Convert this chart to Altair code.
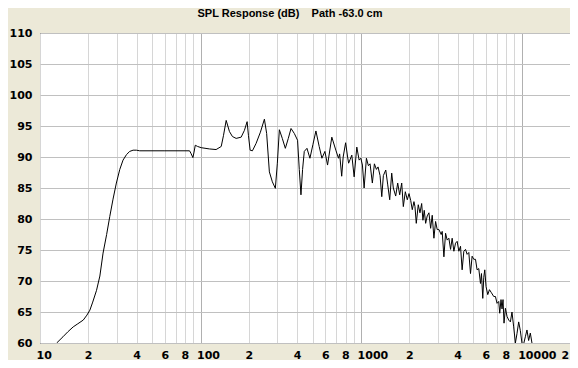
import json
import altair as alt
import pandas as pd

# ---- data ----
freq_hz = [
    12.7, 13.9, 14.9, 16.1, 17.2, 18.6, 19.6, 20.45, 21.3, 22.5, 23.6, 24.7, 26.0, 27.2,
    28.5, 29.9, 31.4, 32.9, 34.6, 36.2, 38.0, 39.8, 41.8, 60, 85.4, 87.1, 89.6, 91.1,
    92.7, 95.8, 101, 113.7, 125, 134.5, 139, 144.4, 151.4, 158, 166.6, 179, 187.6, 195,
    198.7, 203.6, 210.4, 221.8, 235.9, 249.8, 258, 268.3, 280, 292.3, 300.8, 309.6, 323,
    337.3, 352, 366, 383.6, 402, 412, 422, 432, 442.6, 460, 480, 501, 523, 548, 570, 595,
    618, 657, 696, 723, 735, 757, 773, 801, 824, 836, 854, 875, 905, 940, 972, 996,
    1019, 1044, 1079, 1110, 1137, 1175, 1210, 1245, 1275, 1312, 1345, 1376, 1424, 1465,
    1507, 1551, 1587, 1642, 1690, 1739, 1790, 1832, 1885, 1939, 1987, 2036, 2083, 2134,
    2165, 2206, 2270, 2326, 2383, 2427, 2473, 2523, 2581, 2645, 2710, 2773, 2841, 2910,
    2978, 3052, 3153, 3199, 3278, 3358, 3436, 3521, 3607, 3691, 3782, 3874, 3964, 4061,
    4161, 4258, 4363, 4470, 4574, 4686, 4801, 4913, 5034, 5157, 5277, 5406, 5539, 5619,
    5725, 5808, 5891, 6001, 6149, 6300, 6483, 6700, 6864, 7024, 7196, 7300, 7436, 7544,
    7653, 7764, 7920, 8103, 8302, 8507, 8703, 8918, 9137, 9349, 9580, 9810, 10040, 10210,
    10540, 10790, 11050, 11320, 11590, 11870,
]
spl_db = [
    60.0, 61.0, 61.8, 62.6, 63.1, 63.7, 64.5, 65.3, 66.6, 68.5, 70.8, 74.5, 77.5, 80.4,
    83.2, 85.8, 88.0, 89.5, 90.4, 90.9, 91.1, 91.1, 91.0, 91.0, 91.0, 90.6, 89.9, 90.8,
    91.9, 91.7, 91.5, 91.3, 91.2, 91.7, 93.5, 95.9, 94.1, 93.3, 93.0, 93.2, 94.3, 95.7,
    93.5, 91.1, 91.0, 92.2, 94.0, 96.1, 93.8, 87.6, 86.0, 84.95, 89.0, 94.4, 93.0,
    91.4, 93.0, 94.6, 93.8, 92.7, 88.0, 83.9, 88.0, 90.9, 91.4, 89.8, 92.0, 94.2, 91.7, 89.8, 90.9,
    88.7, 93.2, 91.1, 89.8, 90.5, 86.9, 90.0, 92.3, 90.0, 89.0, 89.6, 90.3, 86.8, 91.6, 89.5, 89.8,
    88.7, 85.0, 89.8, 88.6, 88.9, 85.8, 88.9, 88.0, 88.4, 87.0, 83.6, 87.0, 87.9, 85.5,
    83.1, 87.4, 85.0, 83.7, 85.8, 83.9, 85.8, 82.0, 84.4, 83.1, 84.1, 83.0, 81.5, 82.8,
    82.0, 79.3, 82.3, 81.0, 82.5, 79.8, 81.4, 79.3, 80.5, 81.0, 78.5, 80.6, 76.9, 79.6,
    78.3, 78.3, 77.5, 78.0, 73.9, 77.7, 76.6, 76.9, 75.1, 76.9, 74.8, 76.1, 76.4, 74.8,
    75.6, 71.8, 74.8, 75.1, 74.3, 74.6, 71.2, 74.0, 73.5, 73.5, 71.8, 72.0, 69.6, 71.2,
    67.2, 70.6, 71.8, 69.1, 67.8, 68.6, 68.1, 67.5, 67.5, 66.4, 66.7, 64.8, 67.0, 65.5,
    67.0, 63.2, 65.6, 64.3, 63.7, 63.4, 65.0, 62.6, 60.0, 61.5, 63.4, 62.0, 60.0, 59.5,
    61.0, 62.1, 60.4, 61.6, 60.0, 58.5,
]

x_grid_values = [10, 20, 30, 40, 50, 60, 70, 80, 90,
                 100, 200, 300, 400, 500, 600, 700, 800, 900,
                 1000, 2000, 3000, 4000, 5000, 6000, 7000, 8000, 9000,
                 10000, 20000]
x_grid_labels = ["10", "2", "", "4", "", "6", "", "8", "",
                 "100", "2", "", "4", "", "6", "", "8", "",
                 "1000", "2", "", "4", "", "6", "", "8", "",
                 "10000", "2"]
y_values = [60, 65, 70, 75, 80, 85, 90, 95, 100, 105, 110]

title_text = "SPL Response (dB)\u00a0\u00a0\u00a0\u00a0Path -63.0 cm"

df = pd.DataFrame({"f": freq_hz, "db": spl_db})

label_expr = "{}[indexof({}, datum.value)]".format(
    json.dumps(x_grid_labels), json.dumps(x_grid_values))

chart = alt.Chart(df).mark_line(
    color="black", strokeWidth=1, clip=True
).encode(
    x=alt.X("f:Q",
            scale=alt.Scale(type="log", domain=[10, 20000], nice=False),
            axis=alt.Axis(
                values=x_grid_values, labelExpr=label_expr, title=None,
                ticks=False, tickSize=0, domain=False, grid=True,
                gridColor={"condition": {"test": "datum.value == 100 || datum.value == 1000 || datum.value == 10000",
                                         "value": "#b0b0b0"},
                           "value": "#d6d6d6"},
                gridWidth=1,
                labelFont="DejaVu Sans", labelFontSize=11, labelFontWeight="bold",
                labelColor="black", labelAlign="left",
                labelOffset={"condition": {"test": "datum.value == 20000", "value": -9},
                             "value": -4},
                labelPadding=6,
                labelOverlap=False, labelFlush=False, labelBound=False)),
    y=alt.Y("db:Q",
            scale=alt.Scale(domain=[60, 110], nice=False, zero=False),
            axis=alt.Axis(
                values=y_values, title=None, ticks=False, tickSize=0, domain=False,
                grid=True, gridColor="#c0c0c0", gridWidth=1,
                labelFont="DejaVu Sans", labelFontSize=11, labelFontWeight="bold",
                labelColor="black", labelPadding=8)),
).properties(
    width=530, height=310,
    title=alt.TitleParams(text=title_text, font="Liberation Sans", fontSize=11,
                          fontWeight="bold", color="black", anchor="middle",
                          offset=8, dx=-15),
    autosize=alt.AutoSizeParams(type="none"),
    padding={"left": 32, "top": 25, "right": 0, "bottom": 17},
    background="#ECE9D8",
).configure_view(
    stroke="black", strokeWidth=1, fill="white"
)

chart.save("out.html", embed_options={"renderer": "svg", "actions": False})
